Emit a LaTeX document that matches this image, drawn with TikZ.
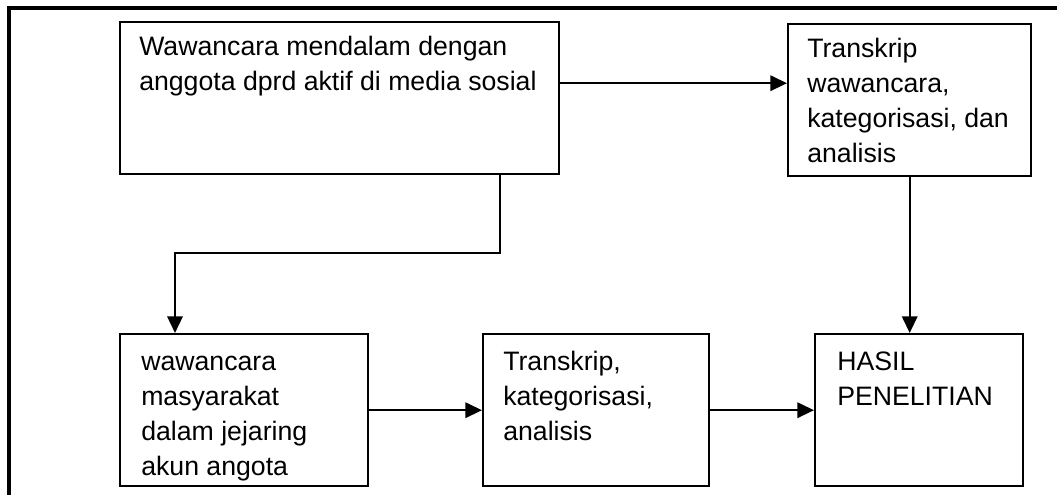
\documentclass[tikz,border=0pt]{standalone}
\usepackage{fontspec}
\setmainfont{Liberation Sans}
\usetikzlibrary{arrows.meta}

\tikzset{
	kotak/.style={draw, line width=1.8pt, rectangle, anchor=north west, inner sep=0pt, minimum height=152*0.75pt},
	teks/.style={anchor=north west, inner sep=0pt, align=left, font=\fontsize{20}{26.25}\selectfont},
	panah/.style={-{Triangle[length=12.5pt,width=11.5pt]}, line width=1.8pt},
}

\begin{document}
\begin{tikzpicture}[x=0.75pt, y=-0.75pt]
	\clip (0,0) rectangle (1057,494);
	% bingkai luar
	\draw[line width=2.4pt] (9,520) -- (9,8) -- (1080,8);

	% kotak atas
	\node[kotak, minimum width=439*0.75pt] (wawancara) at (119,21) {};
	\node[kotak, minimum width=243*0.75pt] (transkrip) at (787,23) {};
	% kotak bawah
	\node[kotak, minimum width=248*0.75pt] (masyarakat) at (119,333) {};
	\node[kotak, minimum width=226*0.75pt] (analisis) at (482,333) {};
	\node[kotak, minimum width=208*0.75pt] (hasil) at (814,333) {};

	% teks
	\node[teks] (twawancara) at ([shift={(20,9.5)}]wawancara.north west) {\strut Wawancara mendalam dengan\\anggota dprd aktif di media sosial};
	\node[teks] (ttranskrip) at ([shift={(20,9.5)}]transkrip.north west) {\strut Transkrip\\wawancara,\\kategorisasi, dan\\analisis};
	\node[teks] (tmasyarakat) at ([shift={(22,12.5)}]masyarakat.north west) {\strut wawancara\\masyarakat\\dalam jejaring\\akun angota};
	\node[teks] (tanalisis) at ([shift={(21,12.5)}]analisis.north west) {\strut Transkrip,\\kategorisasi,\\analisis};
	\node[teks] (thasil) at ([shift={(23,12.5)}]hasil.north west) {\strut HASIL\\PENELITIAN};

	% panah
	\coordinate (ac) at ([yshift=11.25pt]wawancara.east);
	\draw[panah] (ac) -- (ac -| transkrip.west);
	\coordinate (belok1) at (500,253);
	\coordinate (belok2) at (175,253);
	\draw[panah] (wawancara.south -| belok1) -- (belok1) -- (belok2) -- (masyarakat.north -| belok2);
	\draw[panah] (masyarakat.east) -- (analisis.west);
	\draw[panah] (analisis.east) -- (hasil.west);
	\draw[panah] (transkrip.south) -- (transkrip.south |- hasil.north);
\end{tikzpicture}
\end{document}
